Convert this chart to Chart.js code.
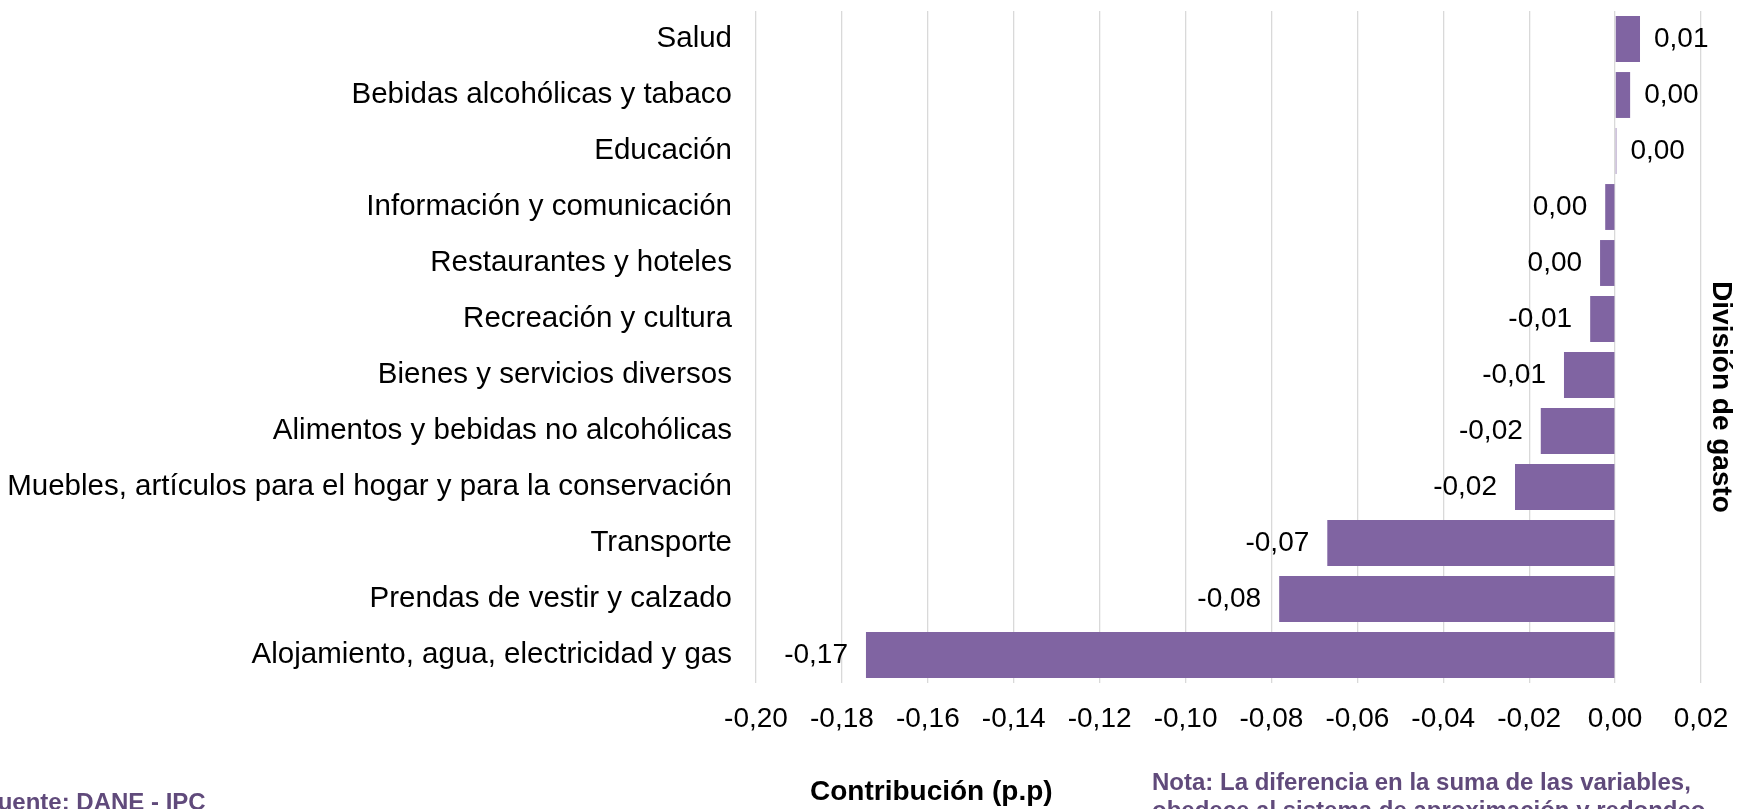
<!DOCTYPE html>
<html>
<head>
<meta charset="utf-8">
<script src="https://cdn.jsdelivr.net/npm/chart.js@4"></script>
<style>
  body { margin: 0; background: #fff; }
  #wrap { width: 1743px; height: 809px; overflow: hidden; }
</style>
</head>
<body>
<div id="wrap"><canvas id="contribChart" width="1743" height="809"></canvas></div>
<script>
const categories = [
  "Salud",
  "Bebidas alcohólicas y tabaco",
  "Educación",
  "Información y comunicación",
  "Restaurantes y hoteles",
  "Recreación y cultura",
  "Bienes y servicios diversos",
  "Alimentos y bebidas no alcohólicas",
  "Muebles, artículos para el hogar y para la conservación",
  "Transporte",
  "Prendas de vestir y calzado",
  "Alojamiento, agua, electricidad y gas",
];
const contribution = [
  0.0058, 0.0035, 0.0003, -0.0023, -0.0035, -0.0058,
  -0.0119, -0.0173, -0.0233, -0.067, -0.0782, -0.1744,
];
const xTicks = [-0.2, -0.18, -0.16, -0.14, -0.12, -0.1, -0.08, -0.06, -0.04, -0.02, 0, 0.02];

const FONT = "'Liberation Sans', Arial, sans-serif";
const PURPLE_TEXT = "#604A7B";

const fmt = (v) => {
  let s = v.toFixed(2);
  if (s === "-0.00") s = "0.00";
  return s.replace(".", ",");
};

// etiquetas de datos al final de cada barra
const valueLabels = {
  id: "valueLabels",
  afterDatasetsDraw(chart) {
    const ctx = chart.ctx;
    const meta = chart.getDatasetMeta(0);
    ctx.save();
    ctx.font = "28px " + FONT;
    ctx.fillStyle = "#000";
    ctx.textBaseline = "middle";
    meta.data.forEach((bar, i) => {
      const v = contribution[i];
      if (v >= 0) {
        ctx.textAlign = "left";
        ctx.fillText(fmt(v), bar.x + 14, bar.y);
      } else {
        ctx.textAlign = "right";
        ctx.fillText(fmt(v), bar.x - 18, bar.y);
      }
    });
    ctx.restore();
  },
};

// titulos y notas fuera del area del grafico
const extraText = {
  id: "extraText",
  afterDraw(chart) {
    const ctx = chart.ctx;
    ctx.save();
    ctx.textBaseline = "alphabetic";

    ctx.fillStyle = "#000";
    ctx.font = "bold 28px " + FONT;
    ctx.textAlign = "left";
    ctx.fillText("Contribución (p.p)", 810, 800);

    ctx.save();
    ctx.translate(1713, 397);
    ctx.rotate(Math.PI / 2);
    ctx.textAlign = "center";
    ctx.fillText("División de gasto", 0, 0);
    ctx.restore();

    ctx.fillStyle = PURPLE_TEXT;
    ctx.font = "bold 24px " + FONT;
    ctx.textAlign = "left";
    ctx.fillText("Fuente: DANE - IPC", -17, 810);
    ctx.fillText("Nota: La diferencia en la suma de las variables,", 1152, 790);
    ctx.fillText("obedece al sistema de aproximación y redondeo", 1152, 818);
    ctx.restore();
  },
};

const ctxContrib = document.getElementById("contribChart").getContext("2d");

const ContribChart = new Chart(ctxContrib, {
  type: "bar",
  data: {
    labels: categories,
    datasets: [
      {
        data: contribution,
        backgroundColor: "#8064A2",
        barPercentage: 0.82,
        categoryPercentage: 1,
      },
    ],
  },
  options: {
    indexAxis: "y",
    responsive: false,
    animation: false,
    layout: {
      padding: { top: 11, right: 42, left: 0, bottom: 0 },
    },
    plugins: {
      legend: { display: false },
      tooltip: { enabled: false },
    },
    scales: {
      x: {
        min: -0.2,
        max: 0.02,
        afterFit(scale) {
          scale.height = 126;
          scale.paddingRight = 0;
          scale.paddingLeft = 0;
        },
        afterBuildTicks(scale) {
          scale.ticks = xTicks.map((v) => ({ value: v }));
        },
        ticks: {
          autoSkip: false,
          maxRotation: 0,
          padding: 19,
          color: "#000",
          font: { family: FONT, size: 28 },
          callback: (v) => fmt(v),
        },
        grid: {
          color: "#D9D9D9",
          lineWidth: 1.3,
          drawTicks: false,
        },
        border: { display: false },
      },
      y: {
        afterFit(scale) {
          scale.width = 756;
          scale.paddingTop = 0;
          scale.paddingBottom = 0;
        },
        ticks: {
          autoSkip: false,
          padding: 24,
          color: "#000",
          font: { family: FONT, size: 29.5 },
        },
        grid: { display: false, drawTicks: false },
        border: { display: false },
      },
    },
  },
  plugins: [valueLabels, extraText],
});
</script>
</body>
</html>
